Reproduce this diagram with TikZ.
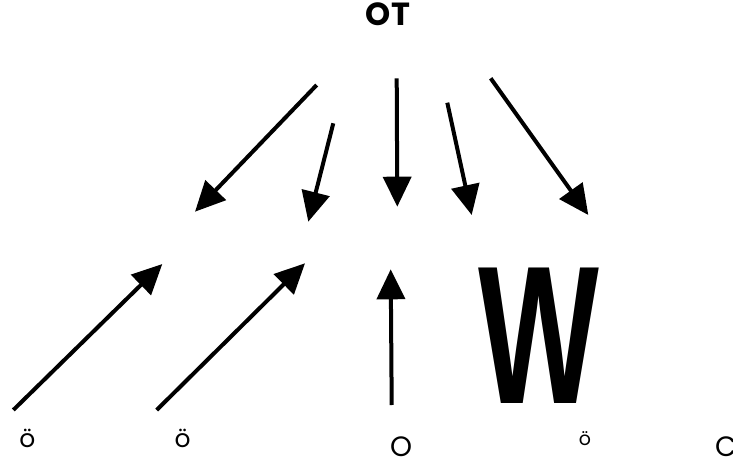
\documentclass[tikz,border=0pt]{standalone}
\usepackage{fontspec}
\setmainfont{Liberation Sans}
\newfontfamily\geo{Poppins}
\usetikzlibrary{arrows.meta}
\begin{document}
\begin{tikzpicture}[x=1pt,y=-1pt,
  arr/.style={line width=4pt,-{Triangle[length=30pt,width=28pt]}},
  lbl/.style={inner sep=0pt,text=black}]
\useasboundingbox (0,0) rectangle (733,465);
% text nodes
\node[lbl,font=\geo\bfseries\fontsize{32}{32}\selectfont] (ot) at (388,14.5) {OT};
\node[lbl,font=\geo\fontsize{25}{25}\selectfont] (u1) at (27.5,438.5) {ö};
\node[lbl,font=\geo\fontsize{25}{25}\selectfont] (u2) at (182.5,438.5) {ö};
\node[lbl,font=\geo\fontsize{19}{19}\selectfont] (u3) at (585,439) {ö};
\node[lbl,font=\geo\fontsize{28}{28}\selectfont] (o) at (401,447) {O};
\node[lbl,font=\geo\fontsize{28}{28}\selectfont,anchor=west] (c) at (715,447) {C};
\node[lbl,font=\bfseries\fontsize{197}{197}\selectfont] (w) at (539,335.5) {\scalebox{0.65}[1]{W}};
% arrow end points
\coordinate (a1s) at (316.7,85);   \coordinate (a1e) at (195,211.7);
\coordinate (a2s) at (333.3,123.3); \coordinate (a2e) at (308.3,221.7);
\coordinate (a3s) at (396.7,78.3);  \coordinate (a3e) at (397.3,206.7);
\coordinate (a4s) at (447.3,102.7); \coordinate (a4e) at (471.7,215);
\coordinate (a5s) at (490.7,78.3);  \coordinate (a5e) at (588.3,215);
\coordinate (a6s) at (13.3,410);    \coordinate (a6e) at (162.3,264);
\coordinate (a7s) at (156.7,410);   \coordinate (a7e) at (305,263.3);
\coordinate (a8s) at (391.7,405);   \coordinate (a8e) at (390.7,269.3);
\draw[arr] (a1s) -- (a1e);
\draw[arr] (a2s) -- (a2e);
\draw[arr] (a3s) -- (a3e);
\draw[arr] (a4s) -- (a4e);
\draw[arr] (a5s) -- (a5e);
\draw[arr] (a6s) -- (a6e);
\draw[arr] (a7s) -- (a7e);
\draw[arr] (a8s) -- (a8e);
\end{tikzpicture}
\end{document}
